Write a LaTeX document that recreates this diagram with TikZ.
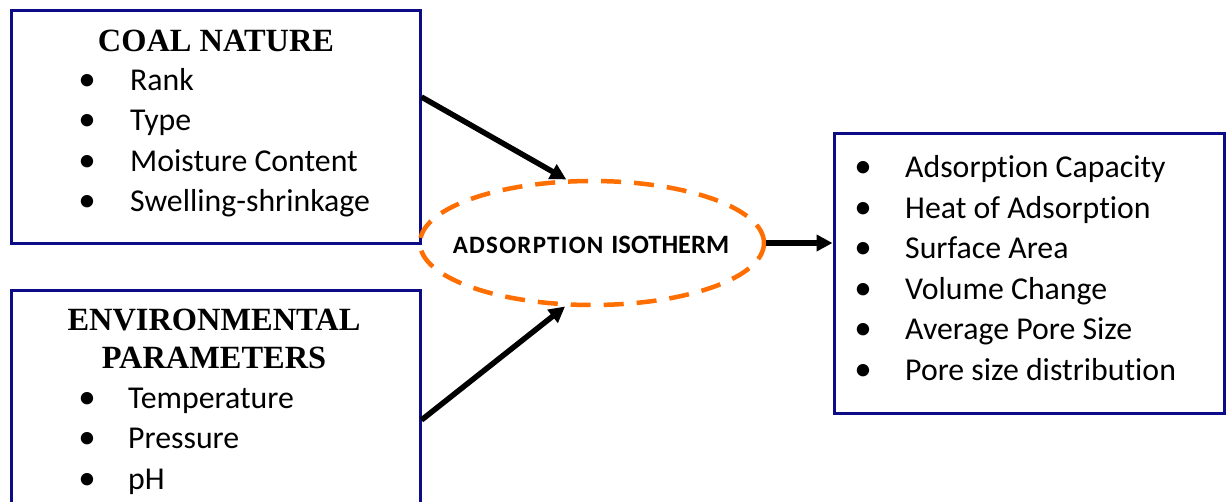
\documentclass[tikz,border=0pt]{standalone}
\usepackage{fontspec}
\setmainfont{Carlito}[Ligatures={NoCommon}]
\newfontfamily\titlefont{Liberation Serif}
\newfontfamily\spacedfont{Carlito}[Ligatures={NoCommon},LetterSpace=5]
\usetikzlibrary{shapes.geometric,arrows.meta}
\definecolor{boxblue}{RGB}{12,12,135}
\definecolor{isoorange}{RGB}{255,110,0}
\tikzset{
  panel/.style={draw=boxblue, line width=3pt, inner sep=0pt, rectangle},
  ttl/.style={anchor=base, inner sep=0pt, font=\titlefont\bfseries\fontsize{32.4}{38}\selectfont},
  itm/.style={anchor=base west, inner sep=0pt, font=\fontsize{31.8}{38}\selectfont},
  bul/.style={anchor=base, inner sep=0pt, font=\fontsize{35}{38}\selectfont},
  arr/.style={line width=5.5pt, -{Triangle[length=16pt,width=16pt]}},
  iso/.style={ellipse, draw=isoorange, line width=4.5pt, dash pattern=on 20pt off 13pt,
    minimum width=344pt, minimum height=124pt, inner sep=0pt},
  isotext/.style={anchor=base, inner sep=0pt}
}
\begin{document}
\begin{tikzpicture}[x=1pt,y=-1pt]
\useasboundingbox (0,0) rectangle (1227,501);
\clip (0,0) rectangle (1227,501);
\fill[white] (0,0) rectangle (1227,501);
% boxes
\node[panel, minimum width=409pt, minimum height=233pt] (coal) at (215.5,126.5) {};
\node[panel, minimum width=409pt, minimum height=240pt] (env) at (215.5,410) {};
\node[panel, minimum width=390pt, minimum height=280pt] (out) at (1029,273) {};
% ellipse
\node[iso] (iso) at (592,243) {};
\node[isotext] (isolabel) at (591,253.3) {{\spacedfont\bfseries\fontsize{25}{28}\selectfont ADSORPTION}\hspace{8pt}{\bfseries\fontsize{26.5}{30}\selectfont ISOTHERM}};
% coal nature
\node[ttl] (t1) at (216,51.7) {COAL NATURE};
\node[bul] (b11) at (87,90) {•};   \node[itm] (i11) at (130,90) {Rank};
\node[bul] (b12) at (87,130.5) {•}; \node[itm] (i12) at (130,130.5) {Type};
\node[bul] (b13) at (87,171) {•};  \node[itm] (i13) at (130,171) {Moisture Content};
\node[bul] (b14) at (87,211.5) {•}; \node[itm] (i14) at (130,211.5) {Swelling-shrinkage};
% environmental
\node[ttl] (t2a) at (214,330) {ENVIRONMENTAL};
\node[ttl] (t2b) at (214,368) {PARAMETERS};
\node[bul] (b21) at (87,408) {•}; \node[itm] (i21) at (128,408) {Temperature};
\node[bul] (b22) at (87,448) {•}; \node[itm] (i22) at (128,448) {Pressure};
\node[bul] (b23) at (87,489) {•}; \node[itm] (i23) at (128,489) {pH};
% outcomes
\node[bul] (b31) at (863,177) {•}; \node[itm] (i31) at (905,177) {Adsorption Capacity};
\node[bul] (b32) at (863,218) {•}; \node[itm] (i32) at (905,218) {Heat of Adsorption};
\node[bul] (b33) at (863,258) {•}; \node[itm] (i33) at (905,258) {Surface Area};
\node[bul] (b34) at (863,299) {•}; \node[itm] (i34) at (905,299) {Volume Change};
\node[bul] (b35) at (863,339.5) {•}; \node[itm] (i35) at (905,339.5) {Average Pore Size};
\node[bul] (b36) at (863,380) {•}; \node[itm] (i36) at (905,380) {Pore size distribution};
% arrows
\draw[arr] ([yshift=29.5pt]coal.east) -- (iso.112.9);
\draw[arr] ([yshift=-10pt]env.east) -- (iso.247.1);
\draw[arr] (iso.east) -- (iso.east -| out.west);
\end{tikzpicture}
\end{document}
